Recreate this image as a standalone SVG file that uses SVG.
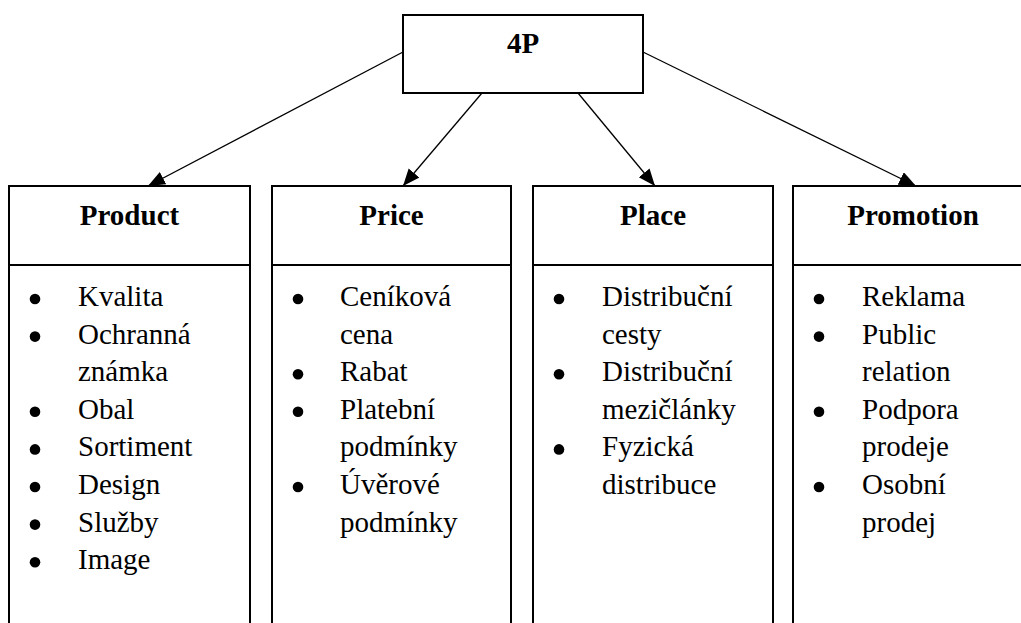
<svg xmlns="http://www.w3.org/2000/svg" width="1021" height="623" viewBox="0 0 1021 623">
  <style>
    .box { fill: #fff; stroke: #000; stroke-width: 2; }
    .div { stroke: #000; stroke-width: 2; }
    .head { font-family: "Liberation Serif", "Times New Roman", serif; font-weight: bold; font-size: 29px; text-anchor: middle; fill: #000; }
    .item { font-family: "Liberation Serif", "Times New Roman", serif; font-size: 29px; fill: #000; }
    .bul { fill: #000; }
    .conn { stroke: #000; stroke-width: 1.3; fill: none; marker-end: url(#arr); }
  </style>
  <defs>
    <marker id="arr" markerUnits="userSpaceOnUse" markerWidth="18" markerHeight="16" refX="17" refY="7" orient="auto">
      <path d="M0,0 L17,7 L0,14 z" fill="#000"/>
    </marker>
  </defs>
  <rect width="1021" height="623" fill="#fff"/>

  <g id="connectors">
    <line class="conn" x1="403" y1="52" x2="148" y2="186"/>
    <line class="conn" x1="482" y1="93" x2="403" y2="186"/>
    <line class="conn" x1="578" y1="93" x2="655" y2="186"/>
    <line class="conn" x1="643" y1="52" x2="916" y2="186"/>
  </g>

  <g id="node-4p">
    <rect class="box" x="403" y="15" width="240" height="78"/>
    <text class="head" x="523" y="53">4P</text>
  </g>

  <g id="node-product">
    <path class="box" d="M9,640 V186 H250 V640"/>
    <line class="div" x1="9" y1="265" x2="250" y2="265"/>
    <text class="head" x="129.5" y="225">Product</text>
    <g class="bul">
      <circle cx="35" cy="299" r="5.3"/>
      <circle cx="35" cy="336.6" r="5.3"/>
      <circle cx="35" cy="411.8" r="5.3"/>
      <circle cx="35" cy="449.4" r="5.3"/>
      <circle cx="35" cy="487" r="5.3"/>
      <circle cx="35" cy="524.6" r="5.3"/>
      <circle cx="35" cy="562.2" r="5.3"/>
    </g>
    <text class="item" x="78" y="306">Kvalita</text>
    <text class="item" x="78" y="343.6">Ochranná</text>
    <text class="item" x="78" y="381.2">známka</text>
    <text class="item" x="78" y="418.8">Obal</text>
    <text class="item" x="78" y="456.4">Sortiment</text>
    <text class="item" x="78" y="494">Design</text>
    <text class="item" x="78" y="531.6">Služby</text>
    <text class="item" x="78" y="569.2">Image</text>
  </g>

  <g id="node-price">
    <path class="box" d="M272,640 V186 H511 V640"/>
    <line class="div" x1="272" y1="265" x2="511" y2="265"/>
    <text class="head" x="391.5" y="225">Price</text>
    <g class="bul">
      <circle cx="298" cy="299" r="5.3"/>
      <circle cx="298" cy="374.2" r="5.3"/>
      <circle cx="298" cy="411.8" r="5.3"/>
      <circle cx="298" cy="487" r="5.3"/>
    </g>
    <text class="item" x="340" y="306">Ceníková</text>
    <text class="item" x="340" y="343.6">cena</text>
    <text class="item" x="340" y="381.2">Rabat</text>
    <text class="item" x="340" y="418.8">Platební</text>
    <text class="item" x="340" y="456.4">podmínky</text>
    <text class="item" x="340" y="494">Úvěrové</text>
    <text class="item" x="340" y="531.6">podmínky</text>
  </g>

  <g id="node-place">
    <path class="box" d="M533,640 V186 H773 V640"/>
    <line class="div" x1="533" y1="265" x2="773" y2="265"/>
    <text class="head" x="653" y="225">Place</text>
    <g class="bul">
      <circle cx="559" cy="299" r="5.3"/>
      <circle cx="559" cy="374.2" r="5.3"/>
      <circle cx="559" cy="449.4" r="5.3"/>
    </g>
    <text class="item" x="602" y="306">Distribuční</text>
    <text class="item" x="602" y="343.6">cesty</text>
    <text class="item" x="602" y="381.2">Distribuční</text>
    <text class="item" x="602" y="418.8">mezičlánky</text>
    <text class="item" x="602" y="456.4">Fyzická</text>
    <text class="item" x="602" y="494">distribuce</text>
  </g>

  <g id="node-promotion">
    <path class="box" d="M793,640 V186 H1040 V640"/>
    <line class="div" x1="793" y1="265" x2="1040" y2="265"/>
    <text class="head" x="913" y="225">Promotion</text>
    <g class="bul">
      <circle cx="819" cy="299" r="5.3"/>
      <circle cx="819" cy="336.6" r="5.3"/>
      <circle cx="819" cy="411.8" r="5.3"/>
      <circle cx="819" cy="487" r="5.3"/>
    </g>
    <text class="item" x="862" y="306">Reklama</text>
    <text class="item" x="862" y="343.6">Public</text>
    <text class="item" x="862" y="381.2">relation</text>
    <text class="item" x="862" y="418.8">Podpora</text>
    <text class="item" x="862" y="456.4">prodeje</text>
    <text class="item" x="862" y="494">Osobní</text>
    <text class="item" x="862" y="531.6">prodej</text>
  </g>
</svg>
